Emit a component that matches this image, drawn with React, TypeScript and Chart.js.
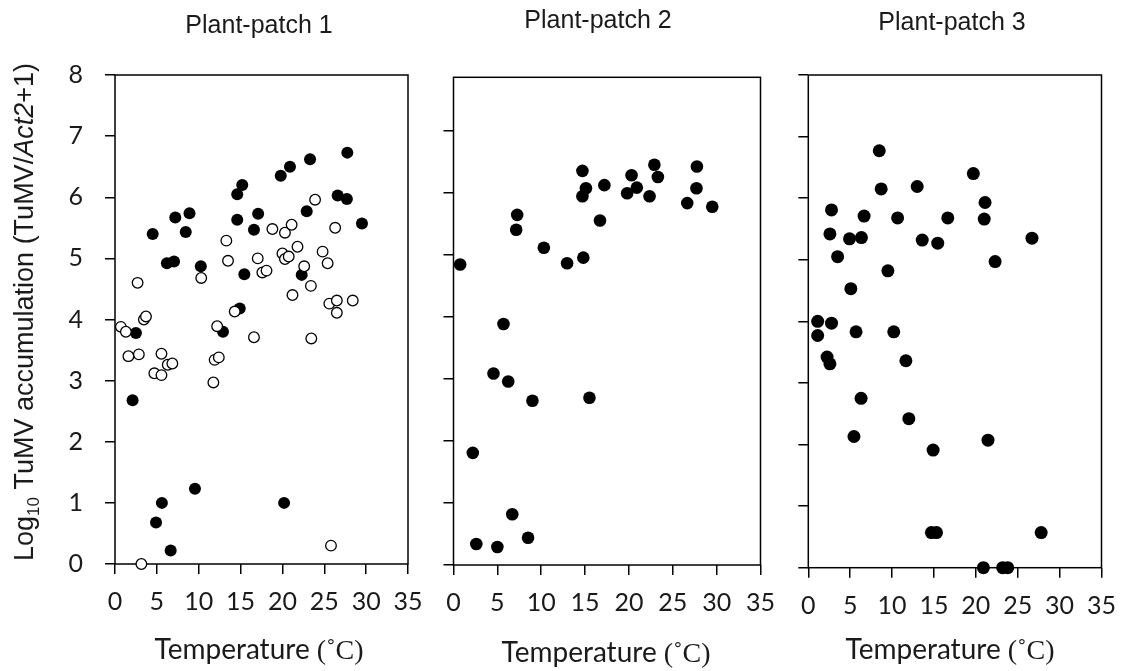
import React, { useEffect, useRef } from 'react';
import { Chart, registerables } from 'chart.js';

Chart.register(...registerables);

// ---------- data ----------
// Plant-patch 1, open circles
const p1OpenTemp = [2.7, 3.45, 3.7, 0.7, 1.3, 10.3, 13.3, 13.5, 17.05, 17.6, 18.1, 14.3, 18.8, 20.3, 21.1, 20.0, 20.3, 20.75, 21.8, 23.9, 22.6, 23.4, 21.2, 24.8, 25.4, 26.3, 25.6, 26.5, 26.5, 28.4, 1.6, 2.85, 5.55, 4.7, 5.55, 6.3, 6.85, 12.2, 11.75, 11.9, 12.4, 16.6, 23.45, 25.8, 3.15];
const p1OpenLog = [4.6, 4.0, 4.05, 3.88, 3.8, 4.68, 5.29, 4.96, 5.0, 4.77, 4.8, 4.13, 5.48, 5.42, 5.55, 5.08, 4.99, 5.03, 5.19, 5.96, 4.87, 4.55, 4.4, 5.11, 4.92, 5.5, 4.26, 4.31, 4.11, 4.31, 3.4, 3.43, 3.44, 3.12, 3.09, 3.26, 3.28, 3.89, 2.97, 3.34, 3.38, 3.71, 3.69, 0.3, 0.0];
// Plant-patch 1, filled circles
const p1FilledTemp = [4.5, 7.2, 8.9, 8.45, 6.2, 7.05, 10.25, 14.6, 15.2, 14.6, 17.1, 16.6, 15.45, 19.8, 20.9, 23.3, 27.75, 26.6, 27.7, 22.9, 29.5, 22.3, 14.9, 2.5, 12.9, 2.1, 5.6, 4.9, 9.55, 6.65, 20.2];
const p1FilledLog = [5.4, 5.67, 5.74, 5.43, 4.92, 4.95, 4.87, 6.05, 6.2, 5.63, 5.73, 5.47, 4.74, 6.35, 6.5, 6.62, 6.73, 6.03, 5.97, 5.77, 5.57, 4.73, 4.18, 3.78, 3.8, 2.68, 1.0, 0.68, 1.23, 0.22, 1.0];
// Plant-patch 2
const p2Temp = [0.76, 5.7, 7.15, 7.26, 10.3, 12.95, 14.8, 14.7, 15.1, 14.7, 16.7, 17.2, 19.8, 20.3, 20.9, 22.35, 22.9, 23.3, 26.65, 27.7, 27.75, 29.5, 4.56, 6.24, 9.0, 15.5, 2.2, 6.7, 2.6, 5.0, 8.5];
const p2Log = [4.85, 3.89, 5.41, 5.65, 5.12, 4.87, 4.96, 6.36, 6.08, 5.95, 5.56, 6.13, 6.0, 6.29, 6.09, 5.95, 6.46, 6.26, 5.84, 6.08, 6.43, 5.78, 3.09, 2.96, 2.65, 2.7, 1.81, 0.82, 0.34, 0.29, 0.44];
// Plant-patch 3
const p3Temp = [8.47, 19.7, 8.7, 13.0, 21.1, 2.77, 6.66, 10.66, 16.65, 21.0, 2.58, 4.92, 6.34, 13.6, 15.45, 26.7, 3.5, 22.3, 9.5, 5.08, 1.12, 2.77, 1.12, 5.7, 10.2, 2.24, 2.58, 11.65, 6.3, 12.0, 5.45, 21.45, 14.9, 14.7, 15.3, 27.8, 20.9, 23.2, 23.8];
const p3Log = [6.77, 6.4, 6.15, 6.19, 5.93, 5.81, 5.71, 5.68, 5.68, 5.66, 5.42, 5.34, 5.36, 5.32, 5.27, 5.35, 5.05, 4.97, 4.82, 4.53, 4.0, 3.97, 3.77, 3.83, 3.83, 3.42, 3.31, 3.36, 2.75, 2.42, 2.13, 2.07, 1.91, 0.57, 0.57, 0.57, 0.0, 0.0, 0.0];

const xTickValues = [0, 5, 10, 15, 20, 25, 30, 35];
const yTickValues = [0, 1, 2, 3, 4, 5, 6, 7, 8];
const panelTitles = ['Plant-patch 1', 'Plant-patch 2', 'Plant-patch 3'];
const xTitleMain = 'Temperature ';
const xTitleUnit = '(˚C)';
const yTitleParts = ['Log', '10', ' TuMV accumulation (TuMV/', 'Act2', '+1)'];

// ---------- layout ----------
const W = 1129;
const H = 671;
const Y_AXIS_W = 70;
const X_AXIS_H = 70;

type Geom = { left: number; right: number; top: number; bottom: number; yMax: number };
const geoms: Geom[] = [
  { left: 115, right: 408, top: 75, bottom: 564, yMax: 8 },
  { left: 453.5, right: 760.5, top: 77.3, bottom: 565, yMax: 7.87 },
  { left: 808.3, right: 1111.7, top: 75, bottom: 567.7, yMax: 8 },
];

type Seg = { text: string; font: string; dy?: number };
type TextItem = { x: number; y: number; rotate?: number; segs: Seg[] };

const TITLE_FONT = '25px "Liberation Sans", Arial, sans-serif';
const XT_FONT = '28px Lato, "Liberation Sans", sans-serif';
const XT_UNIT_FONT = '28px "Liberation Serif", "Times New Roman", serif';
const YT_FONT = '27px "Liberation Sans", Arial, sans-serif';
const YT_ITALIC = 'italic 27px "Liberation Sans", Arial, sans-serif';
const YT_SUB = '17px "Liberation Sans", Arial, sans-serif';
const TEXT_COLOR = '#1a1a1a';
const TICK_FONT = { family: 'Lato, "Liberation Sans", sans-serif', size: 25 };

function textPlugin(items: TextItem[]) {
  return {
    id: 'panelText',
    afterDraw(chart: any) {
      const ctx = chart.ctx as CanvasRenderingContext2D;
      items.forEach((item) => {
        ctx.save();
        ctx.translate(item.x, item.y);
        if (item.rotate) ctx.rotate(item.rotate);
        ctx.fillStyle = TEXT_COLOR;
        ctx.textBaseline = 'alphabetic';
        ctx.textAlign = 'left';
        let total = 0;
        item.segs.forEach((s) => {
          ctx.font = s.font;
          total += ctx.measureText(s.text).width;
        });
        let cx = -total / 2;
        item.segs.forEach((s) => {
          ctx.font = s.font;
          ctx.fillText(s.text, cx, s.dy || 0);
          cx += ctx.measureText(s.text).width;
        });
        ctx.restore();
      });
    },
  };
}

const framePlugin = {
  id: 'frame',
  beforeDatasetsDraw(chart: any) {
    const { ctx, chartArea: a } = chart;
    ctx.save();
    ctx.strokeStyle = '#000';
    ctx.lineWidth = 1.5;
    ctx.strokeRect(a.left, a.top, a.right - a.left, a.bottom - a.top);
    ctx.restore();
  },
};

function pts(xs: number[], ys: number[]) {
  return xs.map((x, i) => ({ x, y: ys[i] }));
}

function makeConfig(g: Geom, datasets: any[], showYLabels: boolean, texts: TextItem[]): any {
  const gridOpts = {
    drawOnChartArea: false,
    drawTicks: true,
    tickLength: 10,
    lineWidth: 1.5,
    tickWidth: 1.5,
    color: '#000',
    tickColor: '#000',
  };
  return {
    type: 'scatter',
    data: { datasets },
    options: {
      animation: false,
      responsive: false,
      events: [],
      layout: {
        padding: {
          left: g.left - Y_AXIS_W,
          top: g.top,
          right: W - g.right,
          bottom: H - g.bottom - X_AXIS_H,
        },
      },
      plugins: {
        legend: { display: false },
        tooltip: { enabled: false },
        title: { display: false },
      },
      scales: {
        x: {
          type: 'linear',
          min: 0,
          max: 35,
          afterBuildTicks: (s: any) => {
            s.ticks = xTickValues.map((v) => ({ value: v }));
          },
          afterFit: (s: any) => {
            s.height = X_AXIS_H;
          },
          border: { display: false },
          grid: gridOpts,
          ticks: {
            color: TEXT_COLOR,
            font: TICK_FONT,
            padding: 13,
            maxRotation: 0,
            autoSkip: false,
          },
        },
        y: {
          type: 'linear',
          min: 0,
          max: g.yMax,
          afterBuildTicks: (s: any) => {
            s.ticks = yTickValues.filter((v) => v <= g.yMax).map((v) => ({ value: v }));
          },
          afterFit: (s: any) => {
            s.width = Y_AXIS_W;
          },
          border: { display: false },
          grid: gridOpts,
          ticks: {
            display: showYLabels,
            color: TEXT_COLOR,
            font: TICK_FONT,
            padding: 22,
            autoSkip: false,
          },
        },
      },
    },
    plugins: [framePlugin, textPlugin(texts)],
  };
}

const filledStyle = (r: number) => ({
  backgroundColor: '#000',
  borderColor: '#000',
  borderWidth: 0,
  pointRadius: r,
  clip: false,
});

export default function App() {
  const c1 = useRef<HTMLCanvasElement>(null);
  const c2 = useRef<HTMLCanvasElement>(null);
  const c3 = useRef<HTMLCanvasElement>(null);

  useEffect(() => {
    const xTitle = (x: number, y: number): TextItem => ({
      x,
      y,
      segs: [
        { text: xTitleMain, font: XT_FONT },
        { text: xTitleUnit, font: XT_UNIT_FONT },
      ],
    });

    const charts: Chart[] = [];

    charts.push(
      new Chart(
        c1.current as HTMLCanvasElement,
        makeConfig(
          geoms[0],
          [
            {
              data: pts(p1OpenTemp, p1OpenLog),
              backgroundColor: '#fff',
              borderColor: '#000',
              borderWidth: 1.3,
              pointRadius: 5.3,
              clip: false,
            },
            { data: pts(p1FilledTemp, p1FilledLog), ...filledStyle(6) },
          ],
          true,
          [
            { x: 259, y: 33, segs: [{ text: panelTitles[0], font: TITLE_FONT }] },
            xTitle(259, 659),
            {
              x: 33,
              y: 312,
              rotate: -Math.PI / 2,
              segs: [
                { text: yTitleParts[0], font: YT_FONT },
                { text: yTitleParts[1], font: YT_SUB, dy: 6 },
                { text: yTitleParts[2], font: YT_FONT },
                { text: yTitleParts[3], font: YT_ITALIC },
                { text: yTitleParts[4], font: YT_FONT },
              ],
            },
          ]
        )
      )
    );

    charts.push(
      new Chart(
        c2.current as HTMLCanvasElement,
        makeConfig(geoms[1], [{ data: pts(p2Temp, p2Log), ...filledStyle(6.3) }], false, [
          { x: 598, y: 28, segs: [{ text: panelTitles[1], font: TITLE_FONT }] },
          xTitle(606, 662),
        ])
      )
    );

    charts.push(
      new Chart(
        c3.current as HTMLCanvasElement,
        makeConfig(geoms[2], [{ data: pts(p3Temp, p3Log), ...filledStyle(6.5) }], false, [
          { x: 952, y: 30, segs: [{ text: panelTitles[2], font: TITLE_FONT }] },
          xTitle(950, 659),
        ])
      )
    );

    return () => {
      charts.forEach((c) => c.destroy());
    };
  }, []);

  const canvasStyle: React.CSSProperties = {
    position: 'absolute',
    left: 0,
    top: 0,
    width: W,
    height: H,
  };

  return (
    <div
      style={{
        position: 'absolute',
        left: 0,
        top: 0,
        width: W,
        height: H,
        background: '#fff',
        overflow: 'hidden',
      }}
    >
      <canvas ref={c1} width={W} height={H} style={canvasStyle} />
      <canvas ref={c2} width={W} height={H} style={canvasStyle} />
      <canvas ref={c3} width={W} height={H} style={canvasStyle} />
    </div>
  );
}
